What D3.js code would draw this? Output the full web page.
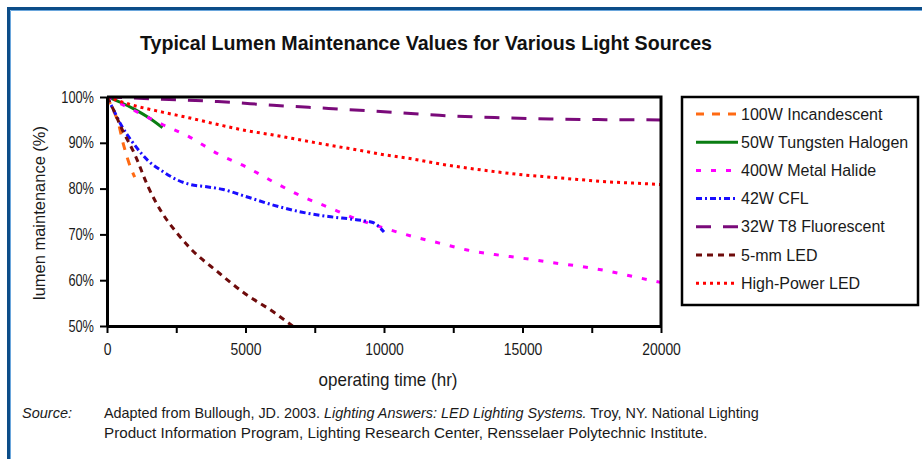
<!DOCTYPE html>
<html>

<head>
    <script type="text/javascript" src="https://d3js.org/d3.v7.min.js"></script>
    <style>
        body {
            margin: 0;
            background: #ffffff;
        }

        svg {
            display: block;
            font-family: "Liberation Sans", Arial, sans-serif;
        }

        .axis path,
        .axis line {
            stroke: #000;
        }

        .axis text {
            fill: #1a1a1a;
            font-size: 16px;
            font-family: "Liberation Sans", Arial, sans-serif;
        }

        .series {
            fill: none;
            stroke-width: 3px;
        }
    </style>
</head>

<body>
    <div id="container"></div>

    <script>
        // series names, colours and dash patterns, in legend order
        var names = ["100W Incandescent", "50W Tungsten Halogen", "400W Metal Halide",
            "42W CFL", "32W T8 Fluorescent", "5-mm LED", "High-Power LED"];
        var colors = ["#ff6a13", "#0a7d12", "#ff00ff", "#1a0dff", "#7a0a7a", "#6e0b0b", "#ff0000"];
        var dashes = ["8,8", null, "5,10", "6,3,2,3", "15,12", "6,5", "3,4"];

        // operating time (hr) and lumen maintenance (%) for each source
        var incandescentHours = [0, 200, 400, 600, 800, 1000];
        var incandescentValues = [100, 97.5, 94.5, 89.5, 85.5, 82.5];

        var halogenHours = [0, 500, 1000, 1500, 2000];
        var halogenValues = [100, 98.8, 97.3, 95.5, 93.3];

        var metalHalideHours = [0, 1000, 2000, 3000, 4000, 5000, 6000, 7000, 8000, 9000, 10000,
            11000, 12000, 13000, 14000, 15000, 16000, 17000, 18000, 19000, 20000];
        var metalHalideValues = [100, 97, 94, 91.2, 87.6, 84.8, 81.5, 78.4, 75.9, 73.4, 71.4,
            69.6, 68.1, 66.6, 65.6, 64.8, 63.9, 63.1, 62.1, 60.8, 59.5];

        var cflHours = [0, 250, 500, 1000, 1500, 2000, 2500, 3000, 3600, 4200, 5000, 6000, 7000,
            8000, 9000, 9600, 10000];
        var cflValues = [100, 97, 94, 89.5, 86, 83.8, 82, 80.9, 80.4, 79.8, 78.3, 76.4, 74.9,
            73.9, 73.2, 72.6, 70.5];

        var t8Hours = [0, 2000, 4000, 6000, 8000, 10000, 12000, 14000, 16000, 18000, 20000];
        var t8Values = [100, 99.5, 99, 98.2, 97.5, 96.8, 96, 95.5, 95.2, 95.05, 95];

        var led5mmHours = [0, 250, 500, 1000, 1500, 2000, 2500, 3000, 4000, 5000, 6000, 6700];
        var led5mmValues = [100, 97, 93.5, 87.5, 80.2, 74.6, 70.5, 67, 61.8, 57, 53.1, 50];

        var hpLedHours = [0, 1000, 2000, 3000, 4000, 5000, 6000, 7000, 8000, 9000, 10000, 11000,
            12000, 13000, 14000, 15000, 16000, 17000, 18000, 19000, 20000];
        var hpLedValues = [100, 98.1, 96.7, 95.4, 94, 92.7, 91.7, 90.6, 89.5, 88.5, 87.4, 86.5,
            85.4, 84.5, 83.7, 83, 82.5, 82, 81.5, 81.2, 80.9];

        var xTicks = [0, 2500, 5000, 7500, 10000, 12500, 15000, 17500, 20000];
        var yTicks = [50, 60, 70, 80, 90, 100];

        // source note, first line in pieces (plain / italic / plain)
        var noteLine1 = ["Adapted from Bullough, JD. 2003. ", "Lighting Answers: LED Lighting Systems.",
            " Troy, NY. National Lighting"];
        var noteLine2 = "Product Information Program, Lighting Research Center, Rensselaer Polytechnic Institute.";

        var seriesHours = [incandescentHours, halogenHours, metalHalideHours, cflHours,
            t8Hours, led5mmHours, hpLedHours];
        var seriesValues = [incandescentValues, halogenValues, metalHalideValues, cflValues,
            t8Values, led5mmValues, hpLedValues];

        var series = names.map(function(name, i) {
            return {
                name: name,
                color: colors[i],
                dash: dashes[i],
                points: seriesHours[i].map(function(h, j) {
                    return { hours: h, value: seriesValues[i][j] };
                })
            };
        });

        var width = 922,
            height = 459;
        var plot = { left: 107, right: 661, top: 97, bottom: 326 };

        // squeeze a text horizontally, to stand in for the condensed face of the original
        function condense(sel, factor) {
            sel.each(function() {
                var w = this.getComputedTextLength();
                d3.select(this)
                    .attr("textLength", w * factor)
                    .attr("lengthAdjust", "spacingAndGlyphs");
            });
        }

        var x = d3.scaleLinear().domain([0, 20000]).range([plot.left, plot.right]);
        var y = d3.scaleLinear().domain([50, 100]).range([plot.bottom, plot.top]);

        var svg = d3.select("#container").append("svg")
            .attr("width", width)
            .attr("height", height);

        // blue page frame
        svg.append("path")
            .attr("d", "M8.5," + height + "V8.5H" + width)
            .attr("fill", "none")
            .attr("stroke", "#0c4d88")
            .attr("stroke-width", 3);
        svg.append("path")
            .attr("d", "M10.5," + height + "V10.5H" + width)
            .attr("fill", "none")
            .attr("stroke", "#6aa6dc")
            .attr("stroke-width", 1);

        // title
        svg.append("text")
            .attr("x", 426)
            .attr("y", 50)
            .attr("text-anchor", "middle")
            .attr("textLength", 572)
            .attr("lengthAdjust", "spacingAndGlyphs")
            .style("font-size", "21px")
            .style("font-weight", "bold")
            .style("fill", "#111")
            .text("Typical Lumen Maintenance Values for Various Light Sources");

        svg.append("defs").append("clipPath")
            .attr("id", "clip")
            .append("rect")
            .attr("x", plot.left)
            .attr("y", plot.top)
            .attr("width", plot.right - plot.left)
            .attr("height", plot.bottom - plot.top);

        var line = d3.line()
            .curve(d3.curveMonotoneX)
            .x(function(d) { return x(d.hours); })
            .y(function(d) { return y(d.value); });

        svg.append("g")
            .attr("clip-path", "url(#clip)")
            .selectAll("path")
            .data(series)
            .enter().append("path")
            .attr("class", "series")
            .attr("d", function(d) { return line(d.points); })
            .attr("stroke", function(d) { return d.color; })
            .attr("stroke-dasharray", function(d) { return d.dash; });

        // top and right frame of the plot
        svg.append("path")
            .attr("d", "M" + plot.left + "," + plot.top + "H" + plot.right + "V" + plot.bottom)
            .attr("fill", "none")
            .attr("stroke", "#000")
            .attr("stroke-width", 3);

        // axes
        var xAxis = svg.append("g")
            .attr("class", "axis")
            .attr("transform", "translate(0," + plot.bottom + ")")
            .call(d3.axisBottom(x).tickValues(xTicks).tickSize(7).tickSizeOuter(0).tickPadding(11)
                .tickFormat(function(d) { return d % 5000 === 0 ? d : ""; }));
        xAxis.select(".domain").attr("stroke-width", 3);
        xAxis.selectAll(".tick line").attr("stroke-width", 2);
        condense(xAxis.selectAll(".tick text"), 0.87);

        var yAxis = svg.append("g")
            .attr("class", "axis")
            .attr("transform", "translate(" + plot.left + ",0)")
            .call(d3.axisLeft(y).tickValues(yTicks).tickSize(7).tickSizeOuter(0).tickPadding(6)
                .tickFormat(function(d) { return d + "%"; }));
        yAxis.select(".domain").attr("stroke-width", 3);
        yAxis.selectAll(".tick line").attr("stroke-width", 2);
        condense(yAxis.selectAll(".tick text"), 0.8);

        // axis titles
        svg.append("text")
            .attr("x", 388)
            .attr("y", 386)
            .attr("text-anchor", "middle")
            .attr("textLength", 139)
            .attr("lengthAdjust", "spacingAndGlyphs")
            .style("font-size", "19px")
            .style("fill", "#1a1a1a")
            .text("operating time (hr)");

        svg.append("text")
            .attr("transform", "translate(45,213) rotate(-90)")
            .attr("text-anchor", "middle")
            .attr("textLength", 174)
            .attr("lengthAdjust", "spacingAndGlyphs")
            .style("font-size", "17px")
            .style("fill", "#1a1a1a")
            .text("lumen maintenance (%)");

        // legend
        var legend = svg.append("g");
        legend.append("rect")
            .attr("x", 682)
            .attr("y", 97)
            .attr("width", 236)
            .attr("height", 208)
            .attr("fill", "#fff")
            .attr("stroke", "#000")
            .attr("stroke-width", 2.5);

        var item = legend.selectAll(".item")
            .data(series)
            .enter().append("g")
            .attr("transform", function(d, i) { return "translate(0," + (114 + i * 28.2) + ")"; });

        item.append("line")
            .attr("x1", 696)
            .attr("x2", 738)
            .attr("stroke", function(d) { return d.color; })
            .attr("stroke-width", 3)
            .attr("stroke-dasharray", function(d) { return d.dash; });

        item.append("text")
            .attr("x", 741)
            .attr("dy", "0.35em")
            .style("font-size", "16px")
            .style("fill", "#1a1a1a")
            .text(function(d) { return d.name; });

        // source note
        svg.append("text")
            .attr("x", 22)
            .attr("y", 418)
            .style("font-size", "14.5px")
            .style("font-style", "italic")
            .style("fill", "#1a1a1a")
            .text("Source:");

        var note = svg.append("text")
            .attr("x", 104)
            .attr("y", 418)
            .style("font-size", "14.4px")
            .style("fill", "#1a1a1a");
        note.selectAll("tspan")
            .data(noteLine1)
            .enter().append("tspan")
            .style("font-style", function(d, i) { return i === 1 ? "italic" : "normal"; })
            .text(function(d) { return d; });

        svg.append("text")
            .attr("x", 104)
            .attr("y", 438)
            .style("font-size", "15.2px")
            .style("fill", "#1a1a1a")
            .text(noteLine2);
    </script>
</body>

</html>
